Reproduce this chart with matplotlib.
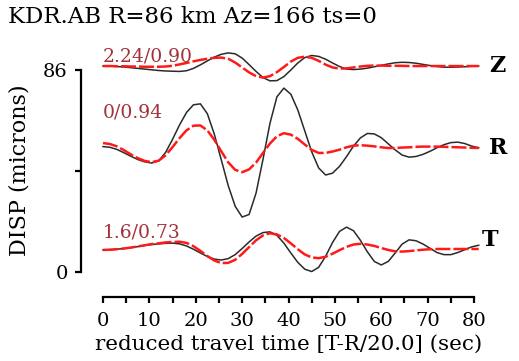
import numpy as np
import matplotlib
matplotlib.use("Agg")
import matplotlib.pyplot as plt
from matplotlib.ticker import MultipleLocator, FixedLocator

# sample times (sec, reduced travel time)
t = np.arange(0, 81.01, 1.5)

# displacement traces relative to their own baseline (microns)
z_obs = [0, 0, -0.2, -0.4, -0.7, -1.0, -1.3, -1.6, -1.9, -2.1, -2.2, -2.3, -2.0, -1.0, 0.5, 2.2, 3.8, 5.0, 5.6,
         5.2, 3.4, 0.6, -2.3, -4.9, -6.3, -6.2, -4.5, -1.7, 1.3, 3.6, 4.5, 4.1, 2.9, 1.3, -0.2, -1.3, -1.5, -1.3,
         -0.9, -0.3, 0.3, 0.9, 1.4, 1.6, 1.5, 1.2, 0.7, 0.2, -0.2, -0.5, -0.5, -0.4, -0.3, -0.1, 0]
z_syn = [0, 0, -0.1, -0.1, -0.2, -0.2, -0.3, -0.3, -0.3, -0.2, 0.1, 0.7, 1.3, 2.0, 2.6, 3.1, 3.5, 3.6, 3.1,
         1.5, -0.6, -2.7, -4.3, -4.9, -4.3, -2.6, -0.4, 1.9, 3.5, 4.0, 3.5, 2.2, 0.6, -0.6, -1.1, -1.0, -0.6,
         -0.2, 0.1, 0.2, 0.2, 0.1, 0.1, 0.1, 0, 0, 0, 0, 0, 0, 0, 0, 0, 0, 0]
r_obs = [0, -0.3, -1.2, -2.6, -4.1, -5.5, -6.5, -7.0, -6.1, -2.5, 3.1, 9.2, 14.5, 17.8, 18.2, 14.0, 5.3, -5.6,
         -16.6, -25.4, -30.0, -28.9, -19.8, -5.4, 9.9, 21.2, 24.9, 22.3, 15.6, 6.7, -2.2, -9.1, -12.1, -11.3,
         -8.4, -4.3, 0.2, 3.7, 5.6, 5.4, 3.8, 1.2, -1.4, -3.6, -4.5, -4.2, -3.3, -2.0, -0.5, 0.8, 1.7, 1.9,
         1.3, 0.2, -0.5]
r_syn = [1.5, 1.1, 0.1, -1.5, -3.3, -4.9, -6.1, -6.6, -6.0, -3.7, -0.2, 3.6, 6.9, 8.9, 9.0, 6.9, 2.9, -2.0,
         -6.7, -9.9, -10.9, -9.7, -6.8, -2.7, 1.3, 4.4, 5.7, 5.1, 3.3, 0.9, -1.4, -2.7, -2.7, -2.1, -1.3, -0.3,
         0.4, 0.6, 0.4, 0.1, -0.3, -0.6, -0.6, -0.4, -0.3, -0.1, 0, 0, 0, -0.1, -0.2, -0.3, -0.4, -0.5, -0.6]
t_obs = [0, 0.1, 0.3, 0.6, 1.0, 1.4, 1.9, 2.3, 2.6, 2.8, 2.9, 2.6, 1.7, 0.3, -1.3, -2.8, -3.9, -4.3, -3.7,
         -2.0, 0.6, 3.4, 5.9, 7.4, 7.7, 6.2, 2.9, -1.3, -5.3, -8.2, -9.2, -7.4, -2.7, 3.2, 7.9, 9.7, 8.2, 4.1,
         -0.8, -4.9, -6.4, -4.9, -1.3, 2.5, 4.3, 3.9, 2.5, 0.7, -1.1, -2.0, -2.0, -1.1, 0.1, 1.3, 2.0]
t_syn = [0, 0.1, 0.3, 0.6, 1.0, 1.5, 2.0, 2.5, 2.8, 3.2, 3.4, 3.5, 3.0, 1.6, -0.4, -2.6, -4.5, -5.6, -5.5,
         -4.2, -1.7, 1.2, 4.1, 6.2, 7.1, 6.6, 5.1, 2.8, 0.3, -1.9, -3.2, -3.5, -2.9, -1.6, -0.1, 1.3, 2.3, 2.6,
         2.3, 1.7, 0.8, 0.0, -0.6, -0.7, -0.5, -0.2, 0.1, 0.3, 0.4, 0.4, 0.4, 0.4, 0.4, 0.4, 0.4]

components = ["Z", "R", "T"]
baselines = [87.7, 53.4, 9.4]
fit_labels = ["2.24/0.90", "0/0.94", "1.6/0.73"]
observed = [z_obs, r_obs, t_obs]
synthetic = [z_syn, r_syn, t_syn]

plt.rcParams['font.family'] = ['DejaVu Serif']

fig = plt.figure(figsize=(5.19, 3.61), dpi=100)
ax = fig.add_axes([81 / 519, 64 / 361, 411.6 / 519, 252.8 / 361])

for base, obs, syn in zip(baselines, observed, synthetic):
    ax.plot(t, base + np.array(obs), color='#2a2a2a', lw=1.1, zorder=2)
    ax.plot(t, base + np.array(syn), color='#ff1a1a', lw=1.8, dashes=(6, 1.2), zorder=3)

lab_y = [91.8, 67.8, 17.0]
for ly, txt in zip(lab_y, fit_labels):
    ax.text(0, ly, txt, color='#a3303a', fontsize=13.5, ha='left', va='center')

comp_pos = [(83.2, 87.6), (83.2, 53.0), (81.7, 13.6)]
for (cx, cy), c in zip(comp_pos, components):
    ax.text(cx, cy, c, fontsize=16, fontweight='bold', ha='left', va='center', clip_on=False)

ax.set_xlim(-4.74, 84)
ax.set_ylim(-10.64, 97)

for s in ['top', 'right']:
    ax.spines[s].set_visible(False)
ax.spines['left'].set_bounds(0, 86)
ax.spines['bottom'].set_bounds(0, 80)
ax.spines['left'].set_linewidth(1.6)
ax.spines['bottom'].set_linewidth(1.6)

ax.yaxis.set_major_locator(FixedLocator([0, 43, 86]))
ax.set_yticklabels(['0', '', '86'])
ax.xaxis.set_major_locator(MultipleLocator(10))
ax.xaxis.set_minor_locator(MultipleLocator(5))
ax.tick_params(axis='both', which='both', direction='out', width=1.6, labelsize=14)
ax.tick_params(axis='x', which='both', length=4.5, pad=6.5)
ax.tick_params(axis='y', which='both', length=4.5, pad=5)

fig.text(8 / 519, 1 - 17 / 361, "KDR.AB R=86 km Az=166 ts=0", fontsize=16.5, ha='left', va='center')
fig.text(289 / 519, 1 - 344 / 361, "reduced travel time [T-R/20.0] (sec)", fontsize=15.4, ha='center', va='center')
fig.text(20 / 519, 1 - 170 / 361, "DISP (microns)", fontsize=16, rotation=90, ha='center', va='center')

fig.savefig("out.png", dpi=100)
